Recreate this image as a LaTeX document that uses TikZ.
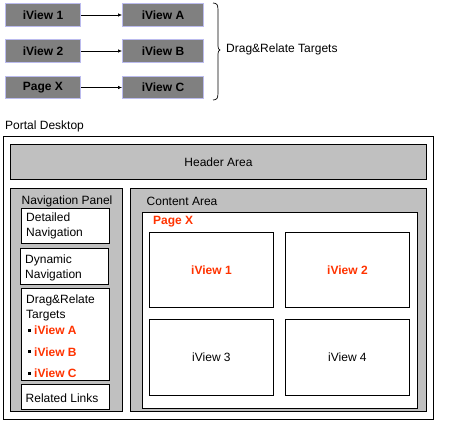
\documentclass[tikz,border=0pt]{standalone}
\usepackage{fontspec}
\setmainfont{Liberation Sans}
\usetikzlibrary{arrows.meta}
\definecolor{redx}{HTML}{FF3300}
\definecolor{panelgray}{HTML}{C0C0C0}
\definecolor{topgray}{HTML}{808080}
\definecolor{lav}{HTML}{BBBBEE}
\begin{document}
\begin{tikzpicture}[x=1pt,y=-1pt,
  every node/.style={font=\fontsize{12}{14}\selectfont, inner sep=0pt},
  topbox/.style={draw=lav, line width=1pt, fill=topgray, anchor=north west, font=\fontsize{12}{14}\selectfont\bfseries},
  area/.style={draw=black, line width=0.9pt, anchor=north west},
  grayarea/.style={area, fill=panelgray},
  whitearea/.style={area, fill=white},
  redtext/.style={text=redx, font=\fontsize{12}{14}\selectfont\bfseries},
  lbl/.style={anchor=west},
  conn/.style={-{Latex[length=4pt,width=3.5pt]}, line width=0.6pt},
  bulletsq/.style={fill=black, minimum size=3pt, inner sep=0pt}
]
\useasboundingbox (0,0) rectangle (456,423);
\fill[white] (0,0) rectangle (456,423);

% top row
\node[topbox, minimum width=75pt, minimum height=23pt] (v1) at (5,3) {iView 1};
\node[topbox, minimum width=75pt, minimum height=23pt] (v2) at (5,39) {iView 2};
\node[topbox, minimum width=75pt, minimum height=22pt] (px) at (5,76) {Page X};
\node[topbox, minimum width=81pt, minimum height=23pt] (va) at (122,3) {iView A};
\node[topbox, minimum width=81pt, minimum height=23pt] (vb) at (122,39) {iView B};
\node[topbox, minimum width=81pt, minimum height=22pt] (vc) at (122,76) {iView C};
\draw[conn] (v1) -- (va);
\draw[conn] (v2) -- (vb);
\draw[conn] (px) -- (vc);

% brace
\draw[line width=0.7pt] (213,3) .. controls (217,3) and (218,5) .. (218,10) -- (218,46)
  .. controls (218,48) and (218.5,50) .. (220,50)
  .. controls (218.5,50) and (218,52) .. (218,54) -- (218,93)
  .. controls (218,98) and (217,100) .. (213,100);
\node[lbl] (drt) at (226,49) {Drag\&Relate Targets};

% portal desktop
\node[lbl] (pdl) at (5,126) {Portal Desktop};
\node[whitearea, minimum width=430pt, minimum height=283pt] (outer) at (3,136) {};
\node[grayarea, minimum width=416pt, minimum height=35pt] (header) at (10,144) {};
\node (headerl) at (header.center) {Header Area};

% navigation panel
\node[grayarea, minimum width=112pt, minimum height=223pt] (nav) at (10,188) {};
\node[lbl] (navl) at (21.5,201) {Navigation Panel};
\node[whitearea, minimum width=88pt, minimum height=35pt] (dn) at (21,208) {};
\node[lbl, align=left, font=\fontsize{12}{15}\selectfont] (dnl) at (26,225.5) {Detailed\\Navigation};
\node[whitearea, minimum width=88pt, minimum height=36pt] (dyn) at (20,248) {};
\node[lbl, align=left, font=\fontsize{12}{14.5}\selectfont] (dynl) at (25,268) {Dynamic\\Navigation};
\node[whitearea, minimum width=88pt, minimum height=92pt] (dr) at (21,288) {};
\node[lbl, align=left, font=\fontsize{12}{14.5}\selectfont] (drl) at (26,308) {Drag\&Relate\\Targets};
\node[bulletsq] (b1) at (29,330) {};
\node[bulletsq] (b2) at (29,351.5) {};
\node[bulletsq] (b3) at (29,373) {};
\node[lbl, redtext] (ra) at (34,330) {iView A};
\node[lbl, redtext] (rb) at (34,352) {iView B};
\node[lbl, redtext] (rc) at (34,373.5) {iView C};
\node[whitearea, minimum width=88pt, minimum height=25pt] (rl) at (21,384) {};
\node[lbl] (rll) at (25.5,398.5) {Related Links};

% content area
\node[grayarea, minimum width=296pt, minimum height=223pt] (content) at (130,188) {};
\node[lbl] (contentl) at (146.5,201) {Content Area};
\node[whitearea, minimum width=275pt, minimum height=196pt] (page) at (142,212) {};
\node[lbl, redtext] (pagel) at (153,221.5) {Page X};
\node[whitearea, minimum width=124pt, minimum height=75pt] (i1) at (149,232) {};
\node[whitearea, minimum width=124pt, minimum height=75pt] (i2) at (285,232) {};
\node[whitearea, minimum width=124pt, minimum height=76pt] (i3) at (149,319) {};
\node[whitearea, minimum width=124pt, minimum height=76pt] (i4) at (285,319) {};
\node[redtext] (i1l) at (i1.center) {iView 1};
\node[redtext] (i2l) at (i2.center) {iView 2};
\node (i3l) at (i3.center) {iView 3};
\node (i4l) at (i4.center) {iView 4};
\end{tikzpicture}
\end{document}
